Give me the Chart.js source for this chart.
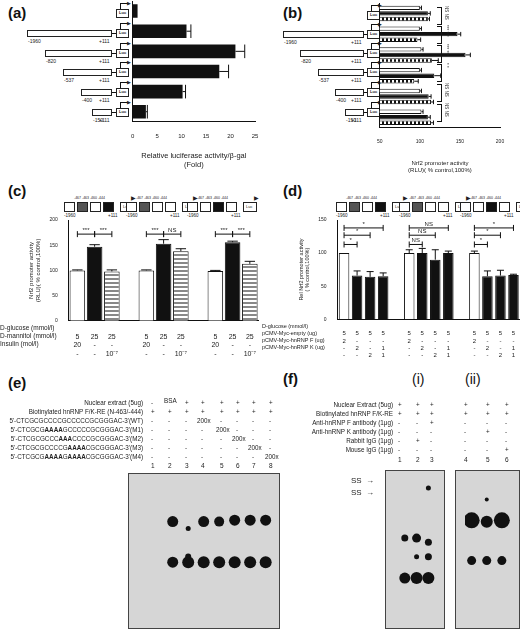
<!DOCTYPE html>
<html><head><meta charset="utf-8">
<script src="https://cdn.jsdelivr.net/npm/chart.js@4"></script>
<style>
body{margin:0;width:520px;height:629px;position:relative;background:#fff;font-family:"Liberation Sans",Arial,sans-serif;overflow:hidden}
.a{position:absolute;white-space:nowrap;color:#222}
.pl{font-size:15px;font-weight:bold;color:#111}
.t{font-size:6.5px}
.box{position:absolute;border:1px solid #222;background:#fff;box-sizing:border-box}
canvas{position:absolute}
.gel{position:absolute;border:1.5px solid #444;box-sizing:border-box;background:#d6d6d6}
</style></head><body>
<div id="root"></div>
<script>
// ---------- DATA ----------
const aConstructs=['','-1960','-820','-537','-400','-150'];
const aValues=[1,11,21,17.7,10.2,2.7];
const aErrors=[0,0.9,1.9,1.9,0.6,0.3];
const aTicks=[0,5,10,15,20,25];

const bConstructs=['','-1960','-820','-537','-400','-150'];
const bControl=[100,100,102,100,100,102];
const bHighGlucose=[110,147,157,118,111,110];
const bInsulin=[110,97,115,93,114,114];
const bErrControl=[2,2,2,2,2,2];
const bErrHigh=[3,4,6,8,3,3];
const bErrIns=[2,4,8,5,3,3];
const bSig=['NS NS','*** ***','*** ***','* *','NS NS','NS NS'];

const cValues=[100,147,98,null,100,153,138,null,99,156,113];
const cErrors=[1,4,3,0,1,8,5,0,1,2,5];
const cGlucose=['5','25','25','','5','25','25','','5','25','25'];
const cMannitol=['20','-','-','','20','-','-','','20','-','-'];
const cInsulin=['-','-','10⁻⁷','','-','-','10⁻⁷','','-','-','10⁻⁷'];
const cBrackets=[[0,1,172,'***'],[1,2,172,'***'],[4,5,172,'***'],[5,6,172,'NS'],[8,9,172,'***'],[9,10,172,'***']];

const dValues=[100,66,64,65,null,100,100,90,100,null,100,65,66,67];
const dErrors=[0,7,8,5,0,5,7,15,3,0,3,8,8,1];
const dGlucose=['5','5','5','5','','5','5','5','5','','5','5','5','5'];
const dEmpty=['2','-','-','-','','2','-','-','-','','2','-','-','-'];
const dF=['-','2','-','1','','-','2','-','1','','-','2','-','1'];
const dK=['-','-','2','1','','-','-','2','1','','-','-','2','1'];
const dBrackets=[[0,1,113,'*'],[0,2,127,'*'],[0,3,138,'*'],[5,6,113,'NS'],[5,7,127,'NS'],[5,8,138,'NS'],[10,11,113,'*'],[10,12,127,'*'],[10,13,138,'*']];

// gel bands: lane, position (0 top .. 100 bottom), size
const eLane=[2,2,3,3,3,4,4,5,5,6,6,7,7,8,8];
const ePos=[29,58,34,58,54,29,58,29,58,28,58,28,58,28,58];
const eSize=[5.5,5.5,2.5,6,3,5.5,6,5,6,5.5,6,5.5,6,5.5,6];
const fiLane=[1,1,2,2,2,3,3,3,3];
const fiPos=[42,70,42,55,70,7,45,55,70];
const fiSize=[3.5,5.5,4.5,2.5,6,2.5,3.5,3.5,6];
const fiiLane=[4,4,5,5,5,6,6];
const fiiPos=[29,58,14,30,58,29,58];
const fiiSize=[8,4.5,2,6,4.5,8,4.5];

// ---------- helpers ----------
const root=document.getElementById('root');
function txt(s,x,y,cls,extra){const d=document.createElement('div');d.className='a '+(cls||'t');d.style.left=x+'px';d.style.top=y+'px';d.innerHTML=s;if(extra)Object.assign(d.style,extra);root.appendChild(d);return d;}
function rect(x,y,w,h,bg){const d=document.createElement('div');d.className='box';Object.assign(d.style,{left:x+'px',top:y+'px',width:w+'px',height:h+'px'});if(bg)d.style.background=bg;root.appendChild(d);return d;}
function cv(x,y,w,h){const c=document.createElement('canvas');c.width=w;c.height=h;c.style.left=x+'px';c.style.top=y+'px';c.style.width=w+'px';c.style.height=h+'px';root.appendChild(c);return c;}
function pattern(vertical,color){const c=document.createElement('canvas');c.width=c.height=4;const g=c.getContext('2d');g.fillStyle='#fff';g.fillRect(0,0,4,4);g.fillStyle=color;if(vertical)g.fillRect(0,0,2,4);else g.fillRect(0,0,4,2);return g.createPattern(c,'repeat');}
const F="'Liberation Sans',Arial,sans-serif";
Chart.defaults.font.family=F;Chart.defaults.font.size=6;Chart.defaults.color='#222';
Chart.defaults.animation=false;Chart.defaults.responsive=false;
Chart.defaults.plugins.legend.display=false;Chart.defaults.plugins.tooltip.enabled=false;

const errPlugin={id:'err',afterDatasetsDraw(ch){const ctx=ch.ctx;const horiz=ch.options.indexAxis==='y';
 ch.data.datasets.forEach((ds,di)=>{const errs=ds.err;if(!errs)return;const meta=ch.getDatasetMeta(di);
  meta.data.forEach((el,i)=>{const v=ds.data[i];if(v==null||!errs[i])return;ctx.save();ctx.strokeStyle='#111';ctx.lineWidth=1;ctx.beginPath();
   if(horiz){const x2=ch.scales.x.getPixelForValue(v+errs[i]);ctx.moveTo(el.x,el.y);ctx.lineTo(x2,el.y);const hh=el.height/2;ctx.moveTo(x2,el.y-hh);ctx.lineTo(x2,el.y+hh);}
   else{const y2=ch.scales.y.getPixelForValue(v+errs[i]);ctx.moveTo(el.x,el.y);ctx.lineTo(el.x,y2);const hw=el.width/3;ctx.moveTo(el.x-hw,y2);ctx.lineTo(el.x+hw,y2);}
   ctx.stroke();ctx.restore();});});}};
const brPlugin={id:'br',afterDatasetsDraw(ch){const b=ch.options.brackets;if(!b)return;const ctx=ch.ctx;const xs=ch.scales.x,ys=ch.scales.y;
 b.forEach(([i,j,v,l])=>{const x1=xs.getPixelForValue(i),x2=xs.getPixelForValue(j),y=ys.getPixelForValue(v);ctx.save();ctx.strokeStyle='#111';ctx.lineWidth=1;ctx.beginPath();
  ctx.moveTo(x1,y);ctx.lineTo(x2,y);ctx.moveTo(x1,y-3);ctx.lineTo(x1,y+3);ctx.moveTo(x2,y-3);ctx.lineTo(x2,y+3);ctx.stroke();
  ctx.fillStyle='#222';ctx.font='6px '+F;ctx.textAlign='center';ctx.fillText(l,(x1+x2)/2,y-2);ctx.restore();});}};
Chart.register(errPlugin,brPlugin);

// ---------- panel labels ----------
txt('(a)',8,4,'pl');txt('(b)',283,4,'pl');txt('(c)',8,182,'pl');txt('(d)',283,182,'pl');txt('(e)',8,374,'pl');txt('(f)',283,370,'pl');
txt('(i)',412,371,'pl',{fontWeight:'normal',fontSize:'14px'});txt('(ii)',465,371,'pl',{fontWeight:'normal',fontSize:'14px'});

// ---------- constructs (a) & (b) ----------
function constructs(list,rows,xEnd,lucX,starts){list.forEach((l,i)=>{const y=rows[i];
 rect(lucX,y-4,13,9);txt('Luc',lucX+3,y-3,'t',{fontSize:'4px',fontWeight:'bold'});
 const ar=document.createElement('div');ar.className='a';Object.assign(ar.style,{left:(lucX+4)+'px',top:(y-10)+'px',width:'8px',height:'5px',borderLeft:'1px solid #111',borderTop:'1px solid #111'});root.appendChild(ar);
 txt('▶',lucX+11,y-13,'t',{fontSize:'5px'});
 if(l){rect(starts[i],y-3,xEnd-starts[i],7);const ln=document.createElement('div');ln.className='a';Object.assign(ln.style,{left:xEnd+'px',top:y+'px',width:(lucX-xEnd)+'px',borderTop:'1px solid #111'});root.appendChild(ln);
 txt(l,starts[i]+1,y+5,'t',{fontSize:'5px'});txt('+111',xEnd-13,y+5,'t',{fontSize:'5px'});}});}
constructs(aConstructs,[13,33,53,72,92,112],112,116,[0,27,45,63,81,92]);
constructs(bConstructs,[15,34,53,72,92,112],364,367,[0,283,300,318,335,345]);

// ---------- chart (a) ----------
new Chart(cv(128,1,135,172),{type:'bar',data:{labels:aConstructs,datasets:[{data:aValues,err:aErrors,backgroundColor:'#111',barPercentage:0.75,categoryPercentage:0.9}]},
 options:{indexAxis:'y',layout:{padding:{right:8}},scales:{y:{grid:{display:false,drawTicks:true,tickLength:3},border:{color:'#111'},ticks:{display:false}},
 x:{min:0,max:25,ticks:{stepSize:5,font:{size:6}},grid:{display:false},border:{color:'#111'},title:{display:true,text:['Relative luciferase activity/β-gal','(Fold)'],font:{size:7.5},padding:{top:8}}}}}});

// ---------- chart (b) ----------
new Chart(cv(374,3,140,175),{type:'bar',data:{labels:bConstructs,datasets:[
 {data:bControl,err:bErrControl,backgroundColor:'#fff',borderColor:'#111',borderWidth:1},
 {data:bHighGlucose,err:bErrHigh,backgroundColor:'#111',borderColor:'#111',borderWidth:1},
 {data:bInsulin,err:bErrIns,backgroundColor:pattern(true,'#111'),borderColor:'#111',borderWidth:1}]},
 options:{indexAxis:'y',datasets:{bar:{categoryPercentage:0.8,barPercentage:0.8}},layout:{padding:{right:14}},scales:{y:{grid:{display:false,tickLength:3},border:{color:'#111'},ticks:{display:false}},
 x:{min:50,max:200,ticks:{stepSize:50,font:{size:5}},grid:{display:false},border:{color:'#111'},title:{display:true,text:['Nrf2 promoter activity','(RLU)( % control,100%)'],font:{size:6},padding:{top:12}}}}}});
bSig.forEach((s,i)=>{const y=[15,34,53,72,92,112][i];txt(s,449,y-9,'t',{fontSize:'4.5px',transform:'rotate(90deg)',transformOrigin:'left top'});
 const d=document.createElement('div');d.className='a';Object.assign(d.style,{left:'437px',top:(y-8)+'px',width:'4px',height:'16px',border:'1px solid #111',borderLeft:'none'});root.appendChild(d);});

// ---------- constructs (c) & (d) ----------
function promoter(x,y,dark){[0,1,2,3].forEach(k=>rect(x+k*13,y,11,10,dark.includes(k)?(k===1?'#555':'#111'):'#fff'));
 rect(x+56,y,14,10);txt('Luc',x+59,y+2,'t',{fontSize:'4px'});txt('-1960',x,y+11,'t',{fontSize:'4.5px'});txt('+111',x+44,y+11,'t',{fontSize:'4.5px'});
 txt('-467 -463 -460 -444',x+10,y-6,'t',{fontSize:'3.5px'});txt('▶',x+67,y-8,'t',{fontSize:'6px'});}
promoter(64,202,[1,3]);promoter(126,202,[1]);promoter(187,202,[2]);
promoter(336,202,[1,3]);promoter(399,202,[1]);promoter(460,202,[2]);

// ---------- chart (c) ----------
const cColors=cValues.map((v,i)=>[ '#fff','#111',pattern(false,'#888')][i%4]);
new Chart(cv(24,214,236,148),{type:'bar',data:{labels:cGlucose.map((g,i)=>[g,cMannitol[i],cInsulin[i]]),datasets:[{data:cValues,err:cErrors,backgroundColor:cColors,borderColor:'#111',borderWidth:1,barPercentage:0.95,categoryPercentage:0.95}]},
 options:{brackets:cBrackets,scales:{x:{grid:{display:false},border:{color:'#111'},ticks:{font:{size:7},maxRotation:0,autoSkip:false,padding:4}},
 y:{min:0,max:200,ticks:{stepSize:50,font:{size:5}},grid:{display:false},border:{color:'#111'},title:{display:true,text:['Nrf2 promoter activity','(RLU)( % control,100%)'],font:{size:6}}}}}});
txt('D-glucose (mmol/l)',0,324,'t',{fontSize:'6.5px'});txt('D-mannitol (mmol/l)',0,332,'t',{fontSize:'6.5px'});txt('Insulin (mol/l)',0,340,'t',{fontSize:'6.5px'});

// ---------- chart (d) ----------
const dColors=dValues.map((v,i)=>((i%5)===0?'#fff':'#111'));
new Chart(cv(294,214,226,148),{type:'bar',data:{labels:dGlucose.map((g,i)=>[g,dEmpty[i],dF[i],dK[i]]),datasets:[{data:dValues,err:dErrors,backgroundColor:dColors,borderColor:'#111',borderWidth:1,barPercentage:0.85,categoryPercentage:0.95}]},
 options:{brackets:dBrackets,scales:{x:{grid:{display:false},border:{color:'#111'},ticks:{font:{size:6},maxRotation:0,autoSkip:false,padding:3}},
 y:{min:0,max:150,ticks:{stepSize:50,font:{size:5}},grid:{display:false},border:{color:'#111'},title:{display:true,text:['Rel Nrf2 promoter activity','( % control,100%)'],font:{size:5.5}}}}}});
txt('D-glucose (mmol/l)',262,323,'t',{fontSize:'5.5px'});txt('pCMV-Myc-empty (ug)',262,330,'t',{fontSize:'5.5px'});txt('pCMV-Myc-hnRNP F (ug)',262,337,'t',{fontSize:'5.5px'});txt('pCMV-Myc-hnRNP K (ug)',262,344,'t',{fontSize:'5.5px'});

// ---------- (e) table ----------
const eRows=[['Nuclear extract (5ug)',['-','BSA','+','+','+','+','+','+']],['Biotinylated hnRNP F/K-RE (N-463/-444)',['+','+','+','+','+','+','+','+']],
 ['5\'-CTCGCGCCCCGCCCCCGCGGGAC-3\'(WT)',['-','-','-','200x','-','-','-','-']],['5\'-CTCGCG<b>AAAA</b>GCCCCCGCGGGAC-3\'(M1)',['-','-','-','-','200x','-','-','-']],
 ['5\'-CTCGCGCCC<b>AAA</b>CCCCGCGGGAC-3\'(M2)',['-','-','-','-','-','200x','-','-']],['5\'-CTCGCGCCCCG<b>AAAA</b>CGCGGGAC-3\'(M3)',['-','-','-','-','-','-','200x','-']],
 ['5\'-CTCGCG<b>AAAA</b>G<b>AAAA</b>CGCGGGAC-3\'(M4)',['-','-','-','-','-','-','-','200x']]];
const eX=[153,170,187,203,222,238,254,271];
eRows.forEach((r,k)=>{const y=399+k*9;txt(r[0],0,y,'t',{width:'143px',textAlign:'right',fontSize:'6.3px'});r[1].forEach((s,i)=>txt(s,eX[i]-(s.length>1?6:2),y-(s==='BSA'?2:0),'t',{fontSize:'6.3px'}));});
eX.forEach((x,i)=>txt(String(i+1),x-2,462,'t',{fontSize:'6.5px'}));

// ---------- (f) table ----------
const fRows=[['Nuclear Extract (5ug)',['+','+','+','+','+','+']],['Biotinylated hnRNP F/K-RE',['+','+','+','+','+','+']],['Anti-hnRNP F antibody (1μg)',['-','-','+','-','-','-']],
 ['Anti-hnRNP K antibody (1μg)',['-','-','-','-','+','-']],['Rabbit IgG (1μg)',['-','+','-','-','-','-']],['Mouse IgG (1μg)',['-','-','-','-','-','+']]];
const fX=[400,418,432,466,488,507];
fRows.forEach((r,k)=>{const y=401+k*9;txt(r[0],262,y,'t',{width:'131px',textAlign:'right',fontSize:'6.3px'});r[1].forEach((s,i)=>txt(s,fX[i]-2,y,'t',{fontSize:'6.3px'}));});
fX.forEach((x,i)=>txt(String(i+1),x-2,456,'t',{fontSize:'6.5px'}));
txt('SS &nbsp;→',351,476,'t',{fontSize:'8px'});txt('SS &nbsp;→',351,488,'t',{fontSize:'8px'});

// ---------- gels ----------
function gel(x,y,w,h,lanes,pos,size,lo,hi){const g=document.createElement('div');g.className='gel';Object.assign(g.style,{left:x+'px',top:y+'px',width:w+'px',height:h+'px'});root.appendChild(g);
 const c=cv(x+2,y+2,w-4,h-4);new Chart(c,{type:'bubble',data:{datasets:[{data:lanes.map((l,i)=>({x:l,y:pos[i],r:size[i]})),backgroundColor:'#111',borderWidth:0}]},
 options:{layout:{padding:0},scales:{x:{display:false,min:lo,max:hi},y:{display:false,min:0,max:100,reverse:true}}}});}
gel(128,473,152,156,eLane,ePos,eSize,-0.37,8.41);
gel(385,470,60,159,fiLane,fiPos,fiSize,0,3.73);
gel(455,470,65,159,fiiLane,fiiPos,fiiSize,3.56,6.54);
</script></body></html>
